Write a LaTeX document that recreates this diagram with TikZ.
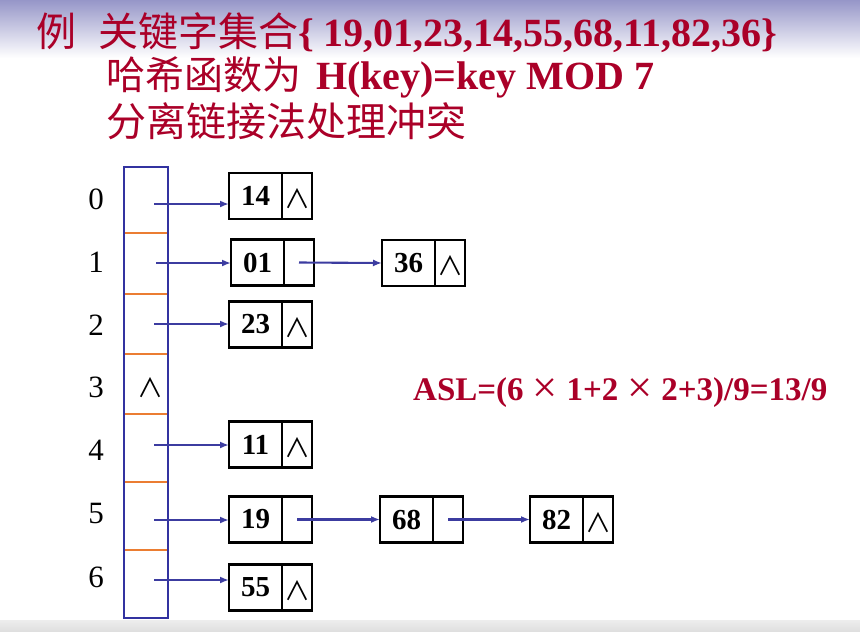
\documentclass[tikz,border=0pt]{standalone}
\usepackage{fontspec}
\setmainfont{Liberation Serif}
\newfontfamily\cjk{Noto Sans CJK SC}
\usetikzlibrary{arrows.meta,calc}

\definecolor{titlered}{RGB}{170,0,40}
\definecolor{linkblue}{RGB}{60,60,160}
\definecolor{tableblue}{RGB}{50,50,160}
\definecolor{divorange}{RGB}{235,125,50}
\definecolor{bandtop}{RGB}{150,150,200}

\tikzset{
  titletext/.style={inner sep=0, text=titlered, anchor=base west,
    font=\fontsize{40}{40}\selectfont\bfseries},
  keycell/.style={draw=black, line width=2.2pt, minimum width=53pt,
    minimum height=46pt, inner sep=0, outer sep=0,
    font=\fontsize{29}{29}\selectfont\bfseries},
  ptrcell/.style={draw=black, line width=2.2pt, minimum width=30pt,
    minimum height=46pt, inner sep=0, outer sep=0, anchor=west},
  link/.style={draw=linkblue, line width=2.1pt, -{Latex[length=9pt,width=7pt]}},
  idx/.style={font=\fontsize{31}{31}\selectfont, anchor=base, inner sep=0},
  nullmark/.style={inner sep=0, font=\cjk\fontsize{26}{26}\selectfont},
  slot/.style={minimum width=44pt, inner sep=0, outer sep=0},
  divider/.style={draw=divorange, line width=2pt},
  tableframe/.style={draw=tableblue, line width=2.4pt},
}

% multiplication sign in the ASL formula
\newcommand\bigtimes{\makebox[1.3em]{\raisebox{-0.08em}{\scalebox{1.35}{\mdseries×}}}}

% one list cell: key part plus pointer part
\newcommand\listcell[3]{%
  \node[keycell] (#1) at (#2) {#3};
  \node[ptrcell] (#1p) at (#1.east) {};}

\begin{document}
\begin{tikzpicture}[x=1pt,y=-1pt]
\useasboundingbox (0,0) rectangle (860,632);

% slide background: band at the top, stripe at the bottom
\fill[top color=bandtop, bottom color=white] (0,0) rectangle (860,58);
\fill[top color=black!7, bottom color=black!13] (0,620) rectangle (860,632);

% headings
\node[titletext] (ta) at (36,46) {\cjk\mdseries 例};
\node[titletext] (tb) at (98,46)
  {{\cjk\mdseries 关键字集合}\{ 19,01,23,14,55,68,11,82,36\}};
\node[titletext] (tc) at (106,89)
  {{\cjk\mdseries\fontsize{39}{39}\selectfont 哈希函数为}\hspace{5pt} H(key)=key MOD 7};
\node[titletext] (td) at (106,136) {\cjk\mdseries 分离链接法处理冲突};

% hash table slots
\node[slot, minimum height=66pt] (slot0) at (146,200) {};
\node[slot, minimum height=61pt] (slot1) at (146,263.5) {};
\node[slot, minimum height=60pt] (slot2) at (146,324) {};
\node[slot, minimum height=60pt] (slot3) at (146,384) {};
\node[slot, minimum height=68pt] (slot4) at (146,448) {};
\node[slot, minimum height=68pt] (slot5) at (146,516) {};
\node[slot, minimum height=68pt] (slot6) at (146,584) {};
\foreach \i in {0,...,5}
  \draw[divider] (slot\i.south west) -- (slot\i.south east);
\draw[tableframe] (slot0.north west) rectangle (slot6.south east);

% slot indices
\node[idx] (i0) at (96,209) {0};
\node[idx] (i1) at (96,272) {1};
\node[idx] (i2) at (96,335) {2};
\node[idx] (i3) at (96,397) {3};
\node[idx] (i4) at (96,460) {4};
\node[idx] (i5) at (96,523) {5};
\node[idx] (i6) at (96,587) {6};

% empty slot
\node[nullmark] (n3) at (150,388) {∧};

% pointer origins inside the slots
\coordinate (s0) at (154,204);
\coordinate (s1) at (156,263);
\coordinate (s2) at (154,324);
\coordinate (s4) at (154,445);
\coordinate (s5) at (154,520);
\coordinate (s6) at (154,580);

% chain cells
\listcell{k14}{255.5,196}{14}
\listcell{k01}{257.5,262.5}{01}
\listcell{k36}{408.5,263}{36}
\listcell{k23}{255.5,324.5}{23}
\listcell{k11}{255.5,444.5}{11}
\listcell{k19}{255.5,519.5}{19}
\listcell{k68}{406.5,519.5}{68}
\listcell{k82}{556.5,519.5}{82}
\listcell{k55}{255.5,587.5}{55}

% null pointers at chain ends
\foreach \c in {k14,k36,k23,k11,k82,k55}
  \node[nullmark] (\c n) at ($(\c p.center)+(0,3)$) {∧};

% links from slots to first cells
\draw[link] (s0) -- (s0 -| k14.west);
\draw[link] (s1) -- (s1 -| k01.west);
\draw[link] (s2) -- (s2 -| k23.west);
\draw[link] (s4) -- (s4 -| k11.west);
\draw[link] (s5) -- (s5 -| k19.west);
\draw[link] (s6) -- (s6 -| k55.west);

% links between cells
\draw[link] (k01p.center) -- (k36.west);
\draw[link] (k19p.center) -- (k68.west);
\draw[link] (k68p.center) -- (k82.west);

% average search length
\node[titletext, font=\fontsize{33}{33}\selectfont\bfseries] (asl) at (413,400)
  {ASL=(6\bigtimes 1+2\bigtimes 2+3)/9=13/9};
\end{tikzpicture}
\end{document}
